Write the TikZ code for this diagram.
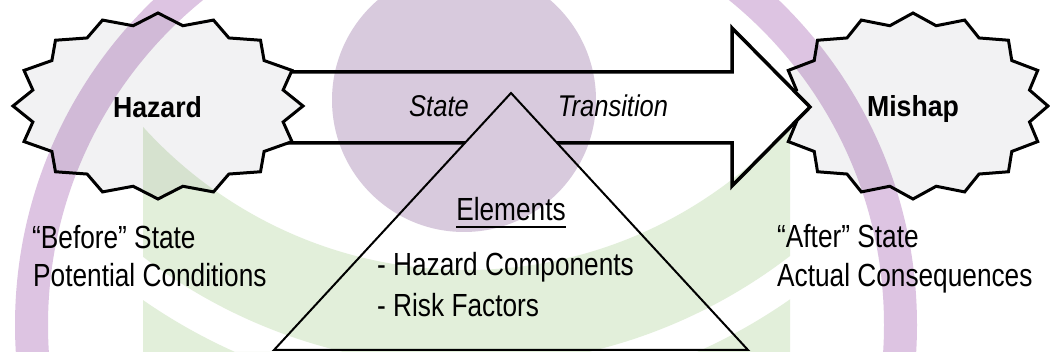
\documentclass[tikz,border=0pt]{standalone}
\usepackage{fontspec}
\setmainfont{Liberation Sans}
\newfontfamily\narrowfont[FakeStretch=0.82]{Liberation Sans}
\newfontfamily\boldnarrow[FakeStretch=0.92]{Liberation Sans}
\newfontfamily\italnarrow[FakeStretch=0.85]{Liberation Sans}
\definecolor{ringpurple}{RGB}{221,196,226}
\definecolor{headpurple}{RGB}{216,202,221}
\definecolor{leafgreen}{RGB}{226,239,218}
\definecolor{burstgray}{RGB}{242,242,243}
\begin{document}
\begin{tikzpicture}[x=1pt,y=-1pt,
  lbl/.style={font=\narrowfont\fontsize{32}{38}\selectfont, inner sep=0pt},
  itemlbl/.style={font=\narrowfont\fontsize{32}{38}\selectfont, inner sep=0pt},
  boldlbl/.style={font=\boldnarrow\fontsize{29}{34}\selectfont\bfseries, inner sep=0pt},
  itlbl/.style={font=\italnarrow\fontsize{30}{36}\selectfont\itshape, inner sep=0pt},
  burst/.style={draw=black, line width=3pt, fill=burstgray, line join=miter},
  blockarrow/.style={draw=black, line width=3.5pt, fill=white, line join=miter},
  tri/.style={draw=black, line width=2pt, fill=white, line join=miter}]
\useasboundingbox (0,0) rectangle (1050,352);
\fill[white] (0,0) rectangle (1050,352);
% Mishap burst (behind the arrow)
\draw[burst] plot[variable=\t, samples at={0,...,31}]
  ({913+135*(1-0.12*mod(\t,2))*cos(\t*11.25)}, {106+93*(1-0.12*mod(\t,2))*sin(\t*11.25)}) -- cycle;
% block arrow
\draw[blockarrow] (250,72) -- (732,72) -- (732,28) -- (810,107) -- (732,186) -- (732,143) -- (250,143) -- cycle;
% Hazard burst (in front of the arrow)
\draw[burst] plot[variable=\t, samples at={0,...,31}]
  ({158+145*(1-0.12*mod(\t,2))*cos(\t*11.25)}, {106+93*(1-0.12*mod(\t,2))*sin(\t*11.25)}) -- cycle;
% triangle
\draw[tri] (511,93) -- (748,350) -- (274,350) -- cycle;
% texts
\node[boldlbl, anchor=base] (hazard) at (157.5,118) {Hazard};
\node[boldlbl, anchor=base] (mishap) at (913,117) {Mishap};
\node[itlbl, anchor=base] (state) at (439,117) {State};
\node[itlbl, anchor=base] (transition) at (613,117) {Transition};
\node[lbl, anchor=base] (elements) at (511,221) {Elements};
\draw[line width=1.6pt] ([yshift=-6pt]elements.base west) -- ([yshift=-6pt]elements.base east);
\node[itemlbl, anchor=base west] (hc) at (377,276) {- Hazard Components};
\node[itemlbl, anchor=base west] (rf) at (377,317) {- Risk Factors};
\node[lbl, anchor=base west] (before) at (32,249) {“Before” State};
\node[lbl, anchor=base west] (potential) at (33,287) {Potential Conditions};
\node[lbl, anchor=base west] (after) at (777,248) {“After” State};
\node[lbl, anchor=base west] (actual) at (777,287) {Actual Consequences};
% watermark overlay
\begin{scope}[blend mode=multiply]
  \fill[ringpurple, even odd rule] (466,325) circle (451) (466,325) circle (418);
  \fill[headpurple] (464,100) circle (132);
  \begin{scope}
    \clip (143,0) rectangle (790,352);
    \fill[leafgreen, even odd rule] (0,0) rectangle (1050,352)
      (466,-166) circle (436) (466,-166) circle (532) (466,-166) circle (567);
  \end{scope}
\end{scope}
\end{tikzpicture}
\end{document}
